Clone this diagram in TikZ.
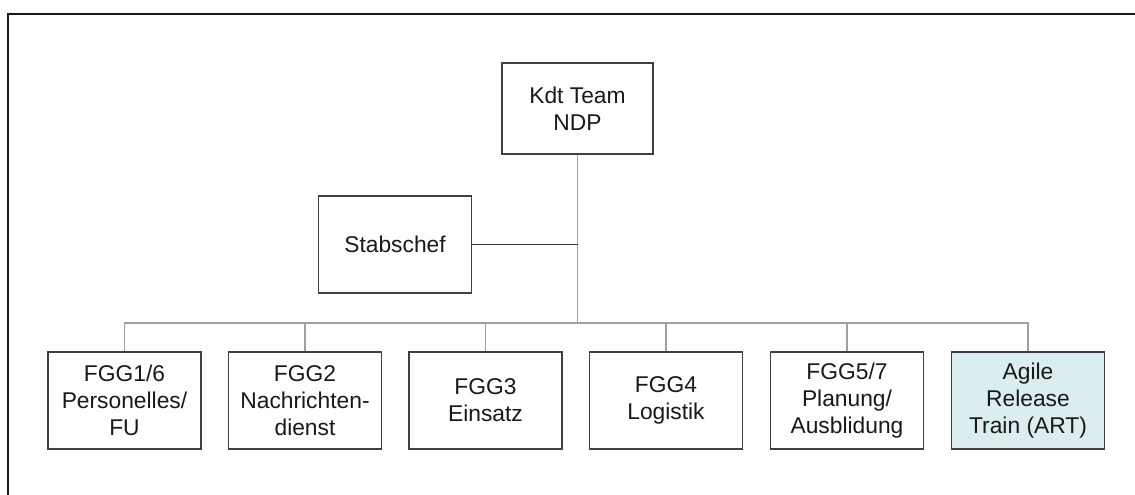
\documentclass[tikz,border=0pt]{standalone}
\usepackage{fontspec}
\setmainfont{Liberation Sans}
\usepackage{xcolor}
\definecolor{boxline}{HTML}{404040}
\definecolor{linkgray}{HTML}{A0A0A0}
\definecolor{artfill}{HTML}{DAEDEF}
\usepackage{tikz}
\usetikzlibrary{positioning, calc}

\begin{document}
\begin{tikzpicture}[x=1pt, y=-1pt,
  unit/.style={draw=boxline, line width=1.5pt, fill=white, text=black!90,
               minimum width=153pt, minimum height=97pt, inner sep=2pt,
               align=center, font=\fontsize{22.8}{27}\selectfont},
  link/.style={draw=linkgray, line width=1.5pt},
  staff/.style={draw=boxline, line width=1pt},
  frame/.style={draw=black!90, line width=2.5pt}]
  \useasboundingbox (0,0) rectangle (1135,495);
  \draw[frame] (1135,14) -| (8,495);
  % top of the tree
  \node[unit, minimum width=151pt, minimum height=91pt] (kdt) at (577.5,108.5) {Kdt Team\\NDP};
  \node[unit] (stab) at (395,244.5) {Stabschef};
  % FGG row
  \node[unit] (fgg1) at (124.5,400.5) {FGG1/6\\Personelles/\\FU};
  \node[unit] (fgg2) at (305,400.5)   {FGG2\\Nachrichten-\\dienst};
  \node[unit] (fgg3) at (485.5,400.5) {FGG3\\Einsatz};
  \node[unit] (fgg4) at (666,400.5)   {FGG4\\Logistik};
  \node[unit] (fgg5) at (847,400.5)   {FGG5/7\\Planung/\\Ausblidung};
  \node[unit, fill=artfill] (art) at (1028,400.5) {Agile\\Release\\Train (ART)};
  \coordinate (hub) at (577.5,323);
  \draw[link] (kdt) -- (hub);
  \draw[staff] (stab.east) -- (stab.east -| kdt.south);
  \draw[link] (fgg1.north) |- (hub) -| (art.north);
  \draw[link] (fgg2.north) -- (fgg2.north |- hub);
  \draw[link] (fgg3.north) -- (fgg3.north |- hub);
  \draw[link] (fgg4.north) -- (fgg4.north |- hub);
  \draw[link] (fgg5.north) -- (fgg5.north |- hub);
\end{tikzpicture}
\end{document}
